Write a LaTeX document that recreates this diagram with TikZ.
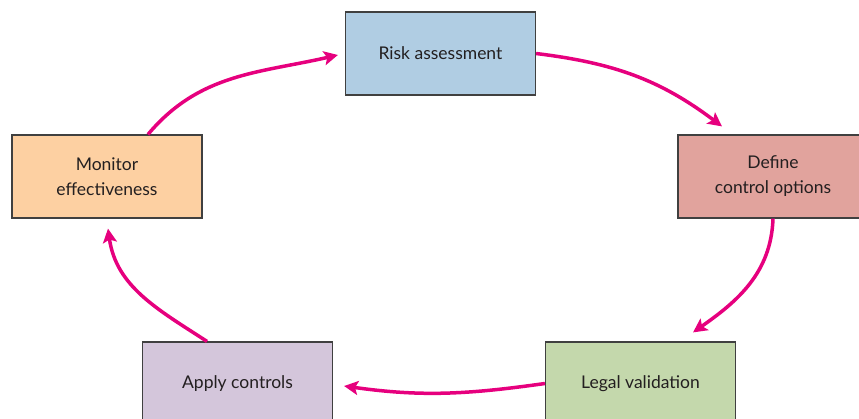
\documentclass[tikz,border=0pt]{standalone}
\usepackage{fontspec}
\setmainfont{Lato}
\usetikzlibrary{arrows.meta}
\definecolor{arrowc}{HTML}{E6007E}
\definecolor{textc}{HTML}{231F20}
\definecolor{edgec}{HTML}{404040}
\definecolor{riskc}{HTML}{B0CDE3}
\definecolor{defc}{HTML}{E1A39D}
\definecolor{legc}{HTML}{C4D8AC}
\definecolor{appc}{HTML}{D4C6DB}
\definecolor{monc}{HTML}{FDD0A2}
\tikzset{
  stagebox/.style={draw=edgec, line width=1.2pt, minimum width=190pt, minimum height=83pt,
    inner sep=0pt, align=center, text=textc, font=\fontsize{17.5}{25}\selectfont},
  cyclearrow/.style={draw=arrowc, line width=3.5pt,
    -{Stealth[length=14pt,width=14pt,inset=3pt]}}
}
\begin{document}
\begin{tikzpicture}[x=1pt,y=-1pt]
\useasboundingbox (0,0) rectangle (859,418);
\node[stagebox, fill=riskc] (risk) at (440.5,53.5) {Risk assessment};
\node[stagebox, fill=defc] (def) at (773,176.5) {Define\\control options};
\node[stagebox, fill=legc] (leg) at (640.5,383.5) {Legal validation};
\node[stagebox, fill=appc] (app) at (237.5,383.5) {Apply controls};
\node[stagebox, fill=monc] (mon) at (107,176.5) {Monitor\\effectiveness};
\draw[cyclearrow] ([xshift=41pt]mon.north) to[out=50,in=193] ([xshift=-7pt,yshift=-1.5pt]risk.west);
\draw[cyclearrow] (risk.east) to[out=-7,in=143] ([xshift=-51pt,yshift=8pt]def.north);
\draw[cyclearrow] (def.south) to[out=-92,in=35] ([xshift=52.5pt,yshift=9pt]leg.north);
\draw[cyclearrow] (leg.west) to[out=188,in=-8] ([xshift=11pt,yshift=-2.5pt]app.east);
\draw[cyclearrow] ([xshift=-30.5pt]app.north) to[out=147,in=-82] ([xshift=1pt,yshift=-10pt]mon.south);
\end{tikzpicture}
\end{document}
